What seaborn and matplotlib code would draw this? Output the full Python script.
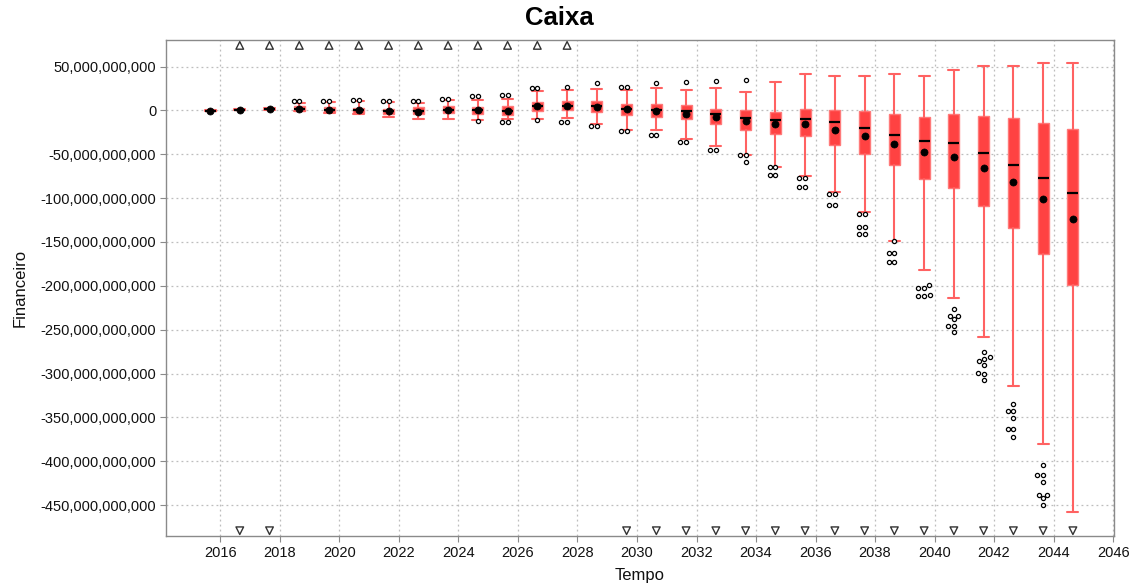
import numpy as np
import pandas as pd
import matplotlib
matplotlib.use("Agg")
import matplotlib.pyplot as plt
import seaborn as sns

# Box statistics per year, in billions
years = list(range(2015, 2045))
whisker_low = [-0.6, 0.3, 1.0, -0.5, -3.0, -4.0, -7.2, -9.5, -9.5, -10.5,
               -9.5, -9.5, -9.0, -15.8, -22.0, -22.7, -32.6, -41.0, -50.4, -64.0,
               -75.0, -92.8, -116.0, -148.5, -182.0, -213.5, -258.0, -314.4, -380.0, -458.4]
q1 = [-0.3, 0.5, 1.3, -0.3, -2.3, -3.4, -4.5, -4.2, -3.0, -4.2,
      -4.9, -0.4, 0.4, -1.5, -5.7, -7.0, -10.0, -15.5, -22.0, -27.0,
      -29.6, -39.5, -49.5, -62.2, -78.5, -88.3, -109.0, -134.4, -163.5, -199.5]
median = [-0.2, 0.8, 1.6, 1.5, 0.5, 0.0, -0.5, -1.0, 0.5, 0.0,
          -0.5, 5.3, 5.5, 4.9, 1.5, 0.0, -1.1, -4.5, -8.2, -11.0,
          -9.5, -12.9, -19.5, -27.5, -35.3, -37.2, -48.6, -62.0, -76.5, -94.5]
q3 = [0.2, 1.0, 2.0, 4.8, 4.2, 3.0, 1.9, 3.4, 4.6, 3.8,
      4.6, 9.1, 10.6, 10.6, 7.2, 7.2, 5.7, 2.0, 0.5, -1.3,
      2.0, 0.6, -1.0, -4.3, -7.7, -4.3, -6.0, -9.2, -14.0, -20.8]
whisker_high = [0.5, 1.3, 2.3, 8.5, 9.5, 10.5, 9.8, 8.4, 11.4, 12.2,
                13.0, 21.7, 23.0, 24.5, 23.5, 25.0, 23.0, 25.0, 21.5, 32.8,
                41.0, 39.5, 39.5, 41.0, 39.5, 46.0, 50.7, 50.7, 54.5, 54.5]
mean = [-0.3, 0.8, 1.8, 2.0, 0.8, 0.2, -0.8, -1.5, 0.6, 0.2,
        -0.4, 4.6, 5.5, 3.8, 1.1, -0.5, -3.8, -7.8, -11.7, -15.3,
        -15.5, -22.2, -29.0, -38.0, -47.8, -53.1, -66.0, -81.8, -100.8, -123.5]

outliers = {
    2018: [10.5, 10.5],
    2019: [11.0, 11.0],
    2020: [11.5, 12.0],
    2021: [10.5, 10.5],
    2022: [11.0, 11.0],
    2023: [13.3, 13.3],
    2024: [16.0, 16.0, -12.5],
    2025: [17.9, 17.9, -13.3, -13.3],
    2026: [25.5, 25.5, -11.0],
    2027: [27.0, -13.0, -13.0],
    2028: [31.3, -18.0, -18.0],
    2029: [26.5, 26.5, -23.0, -23.0],
    2030: [31.0, -27.7, -27.7],
    2031: [32.6, -36.0, -36.0],
    2032: [33.5, -45.0, -45.0],
    2033: [34.5, -51.0, -51.0, -58.5],
    2034: [-65.0, -65.0, -74.0, -74.0],
    2035: [-77.0, -77.0, -87.0, -87.0],
    2036: [-95.8, -95.8, -108.0, -108.0],
    2037: [-118.6, -118.6, -133.0, -133.0, -141.0, -141.0],
    2038: [-149.0, -163.0, -163.0, -172.5, -172.5],
    2039: [-199.0, -202.0, -202.0, -210.0, -212.0, -212.0],
    2040: [-226.0, -234.0, -234.0, -238.0, -245.5, -245.5, -253.0],
    2041: [-276.0, -281.0, -283.0, -286.0, -290.0, -299.0, -300.0, -307.0],
    2042: [-334.5, -343.0, -343.0, -351.0, -363.0, -363.0, -372.4],
    2043: [-404.0, -416.0, -416.0, -424.0, -438.0, -438.0, -442.0, -450.0],
}

# years with values beyond the visible range (far-out indicators)
far_up_years = list(range(2016, 2028))
far_down_years = [2016, 2017] + list(range(2029, 2045))

date_offset = 0.65  # each point sits late in its year on the time axis
B = 1e9

sns.set_style("white")
plt.rcParams["font.family"] = ["Liberation Sans", "DejaVu Sans"]

fig = plt.figure(figsize=(11.33, 5.86), dpi=100)
ax = fig.add_axes([0.1465, 0.085, 0.8367, 0.846])

pos = [y + date_offset for y in years]
stats = []
for i in range(len(years)):
    stats.append(dict(med=median[i] * B, q1=q1[i] * B, q3=q3[i] * B,
                      whislo=whisker_low[i] * B, whishi=whisker_high[i] * B,
                      fliers=[]))

ax.bxp(stats, positions=pos, widths=0.37, capwidths=0.37, patch_artist=True,
       showfliers=False, manage_ticks=False,
       boxprops=dict(facecolor="#ff4242", edgecolor="#ff7a7a", linewidth=1),
       whiskerprops=dict(color="#ff6262", linewidth=1.5),
       capprops=dict(color="#ff6262", linewidth=1.5),
       medianprops=dict(color="black", linewidth=1.6))

# mean markers
sns.scatterplot(x=pos, y=[m * B for m in mean], color="black", marker="o",
                s=26, edgecolor="black", linewidth=0.5, zorder=5, ax=ax, legend=False)

# outliers
out_df = pd.DataFrame([(y + date_offset, v * B) for y, vals in outliers.items() for v in vals],
                      columns=["Tempo", "Financeiro"])
sns.swarmplot(data=out_df, x="Tempo", y="Financeiro", native_scale=True,
              size=3.0, color="white", edgecolor="black", linewidth=0.9,
              ax=ax, zorder=4)

# far-out triangles along the plot edges
ax.scatter([y + date_offset for y in far_up_years], [0.99] * len(far_up_years),
           transform=ax.get_xaxis_transform(), marker="^", s=30,
           facecolor="none", edgecolor="#333333", linewidth=1, clip_on=False, zorder=6)
ax.scatter([y + date_offset for y in far_down_years], [0.011] * len(far_down_years),
           transform=ax.get_xaxis_transform(), marker="v", s=30,
           facecolor="none", edgecolor="#333333", linewidth=1, clip_on=False, zorder=6)

ax.set_xlim(2014.17, 2046.03)
ax.set_ylim(-485.5 * B, 79.8 * B)
ax.set_xticks(list(range(2016, 2047, 2)))
ax.set_yticks(np.arange(-450, 51, 50) * B)
ax.yaxis.set_major_formatter(matplotlib.ticker.FuncFormatter(lambda v, p: f"{v:,.0f}"))

ax.grid(True, color="#bdbdbd", linestyle=(0, (1.5, 2.5)), linewidth=0.9)
ax.set_axisbelow(True)
for s in ax.spines.values():
    s.set_color("#8a8a8a")
    s.set_linewidth(1)
ax.tick_params(axis="both", which="major", length=4, width=0.8, color="#8a8a8a",
               direction="out", labelsize=10.5, labelcolor="#111111", pad=3,
               left=True, bottom=True)

fig.text(0.494, 0.97, "Caixa", fontsize=18.5, fontweight="bold", ha="center",
         va="center", color="black")
ax.set_xlabel("Tempo", fontsize=12, labelpad=6, color="#111111")
ax.set_ylabel("Financeiro", fontsize=12, labelpad=9, color="#111111")

fig.savefig("out.png", dpi=100)
